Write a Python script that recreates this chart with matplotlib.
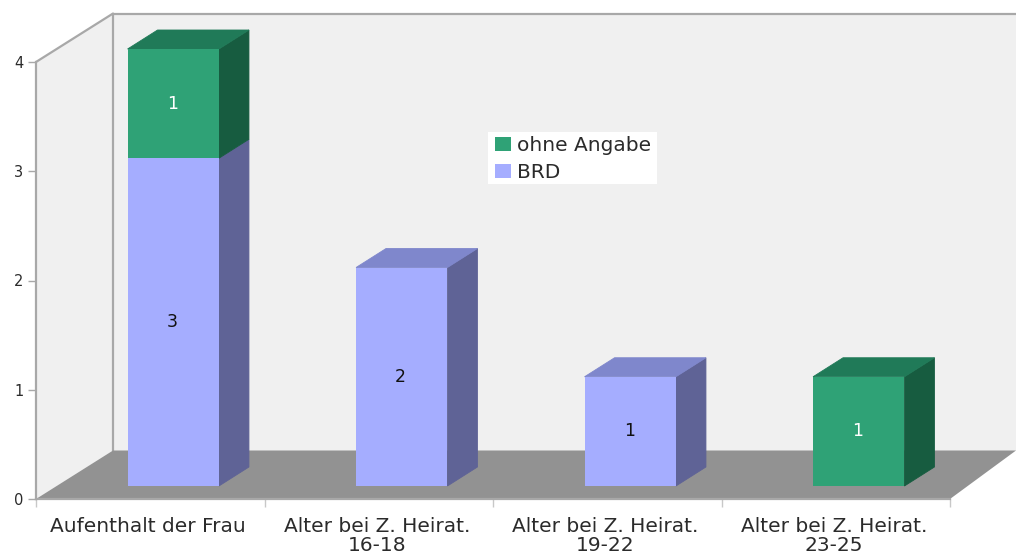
#!/usr/bin/env python3
# -*- coding: utf-8 -*-
"""
Stacked bars with a fake 3D box look, drawn with plain matplotlib patches.
"""
import numpy as np
import matplotlib
matplotlib.use('Agg')
import matplotlib.pyplot as plt
from matplotlib.patches import Polygon, Patch, Rectangle
from matplotlib.transforms import Affine2D, IdentityTransform

categories = ['Aufenthalt der Frau', 'Alter bei Z. Heirat.\n16-18',
              'Alter bei Z. Heirat.\n19-22', 'Alter bei Z. Heirat.\n23-25']
brd = [3, 2, 1, 0]
ohne_angabe = [1, 0, 0, 1]
y_ticks = [0, 1, 2, 3, 4]

W, H = 1016, 554
plt.rcParams['font.family'] = 'DejaVu Sans'

GREEN = ('#2fa276', '#207a58', '#175c40')   # front, top, side
BLUE = ('#a5adff', '#7f87cc', '#5f6396')
WALL = '#f0f0f0'
FLOOR = '#929292'
LINE = '#a8a8a8'
TEXT = '#2b2b2b'

fig = plt.figure(figsize=(W/100, H/100), dpi=100, facecolor='white')
ax = fig.add_axes([36/W, (H-499)/H, (950-36)/W, (499-62)/H])
ax.set_xlim(-0.5, 3.5)
ax.set_ylim(0, 4)
ax.patch.set_visible(False)

# offsets in pixels: front plane of the bars, and the back wall
front = (23, 13)
wall = (77, 48.5)
depth = (30, 19)
bar_width = 0.4


def to_px(x, y, off=(0, 0)):
    px = ax.transData.transform((x, y))
    return px[0]+off[0], px[1]+off[1]


def poly(points, color, zorder=1, **kw):
    ax.add_patch(Polygon(points, closed=True, facecolor=color, transform=IdentityTransform(),
                         clip_on=False, zorder=zorder, **kw))


# left wall, back wall, floor
x0, x1 = ax.get_xlim()
poly([to_px(x0, 0), to_px(x0, 4), to_px(x0, 4, wall), to_px(x0, 0, wall)], WALL, edgecolor='none')
poly([to_px(x0, 0, wall), to_px(x0, 4, wall), (W, to_px(x0, 4, wall)[1]), (W, to_px(x0, 0, wall)[1])],
     WALL, edgecolor='none')
poly([to_px(x0, 0), to_px(x1, 0), (W, to_px(x1, 0, wall)[1]), to_px(x0, 0, wall)], FLOOR,
     zorder=1.5, edgecolor='none')

# wall outlines
for a, b in [(to_px(x0, 4), to_px(x0, 4, wall)),
             (to_px(x0, 4, wall), (W, to_px(x0, 4, wall)[1])),
             (to_px(x0, 4, wall), to_px(x0, 0, wall))]:
    ax.plot([a[0], b[0]], [a[1], b[1]], color=LINE, lw=1.6, transform=IdentityTransform(),
            clip_on=False, zorder=1.2, solid_capstyle='round')


def box(xc, bottom, top, colors, show_top):
    xa, xb = xc-bar_width/2, xc+bar_width/2
    off = front
    back = (front[0]+depth[0], front[1]+depth[1])
    # side and top faces sit under the front face, a thin edge closes the seams
    poly([to_px(xb, bottom, off), to_px(xb, top, off), to_px(xb, top, back), to_px(xb, bottom, back)],
         colors[2], zorder=2, edgecolor=colors[2], linewidth=0.6)
    if show_top:
        poly([to_px(xa, top, off), to_px(xb, top, off), to_px(xb, top, back), to_px(xa, top, back)],
             colors[1], zorder=2, edgecolor=colors[1], linewidth=0.6)


def bar_label(xc, y, value, color):
    xt, yt = to_px(xc, y, front)
    ax.text(xt-1, yt, str(value), color=color, fontsize=12.5, ha='center', va='center',
            transform=IdentityTransform(), zorder=4)


front_trans = Affine2D().translate(*front)
xpos = np.arange(len(categories))
for i in xpos:
    b, g = brd[i], ohne_angabe[i]
    if b > 0:
        box(i, 0, b, BLUE, g == 0)
        ax.bar(i, b, width=bar_width, color=BLUE[0], zorder=3, clip_on=False,
               transform=ax.transData+front_trans)
        bar_label(i, b/2, b, '#111111')
    if g > 0:
        box(i, b, b+g, GREEN, True)
        ax.bar(i, g, bottom=b, width=bar_width, color=GREEN[0], zorder=3, clip_on=False,
               transform=ax.transData+front_trans)
        bar_label(i, b+g/2, g, 'white')

# axes
for s in ['top', 'right']:
    ax.spines[s].set_visible(False)
for s in ['left', 'bottom']:
    ax.spines[s].set_color(LINE)
    ax.spines[s].set_linewidth(1.6)
    ax.spines[s].set_zorder(1.8)
ax.set_yticks(y_ticks)
ax.tick_params(axis='y', length=6, width=1, color=LINE, labelsize=10.5, labelcolor=TEXT, pad=3)
ax.set_xticks(np.arange(-0.5, 4))
ax.set_xticklabels([])
ax.set_xticks(xpos, minor=True)
ax.set_xticklabels(categories, minor=True, fontsize=14.5, color=TEXT, linespacing=1.0)
ax.tick_params(axis='x', which='major', length=6, width=1, color='#c8c8c8')
ax.tick_params(axis='x', which='minor', length=0, pad=13)
# labels sit a little left of the category centre
label_shift = Affine2D().translate(-2, 0)
for lab in ax.get_xticklabels(minor=True):
    lab.set_transform(lab.get_transform()+label_shift)

# legend on its own white box, wider than it is tall padded
fig.add_artist(Rectangle((488/W, (H-184)/H), 169/W, 52/H, transform=fig.transFigure,
                         facecolor='white', edgecolor='none', zorder=9))
handles = [Patch(facecolor=GREEN[0], label='ohne Angabe'), Patch(facecolor=BLUE[0], label='BRD')]
leg = fig.legend(handles=handles, loc='upper left', bbox_to_anchor=(495/W, (H-136)/H),
                 fontsize=14.5, frameon=False, borderaxespad=0, borderpad=0, handlelength=0.8,
                 handleheight=0.7, handletextpad=0.3, labelspacing=0.38, labelcolor=TEXT)
leg.set_zorder(10)

fig.savefig('out.png', dpi=100)
